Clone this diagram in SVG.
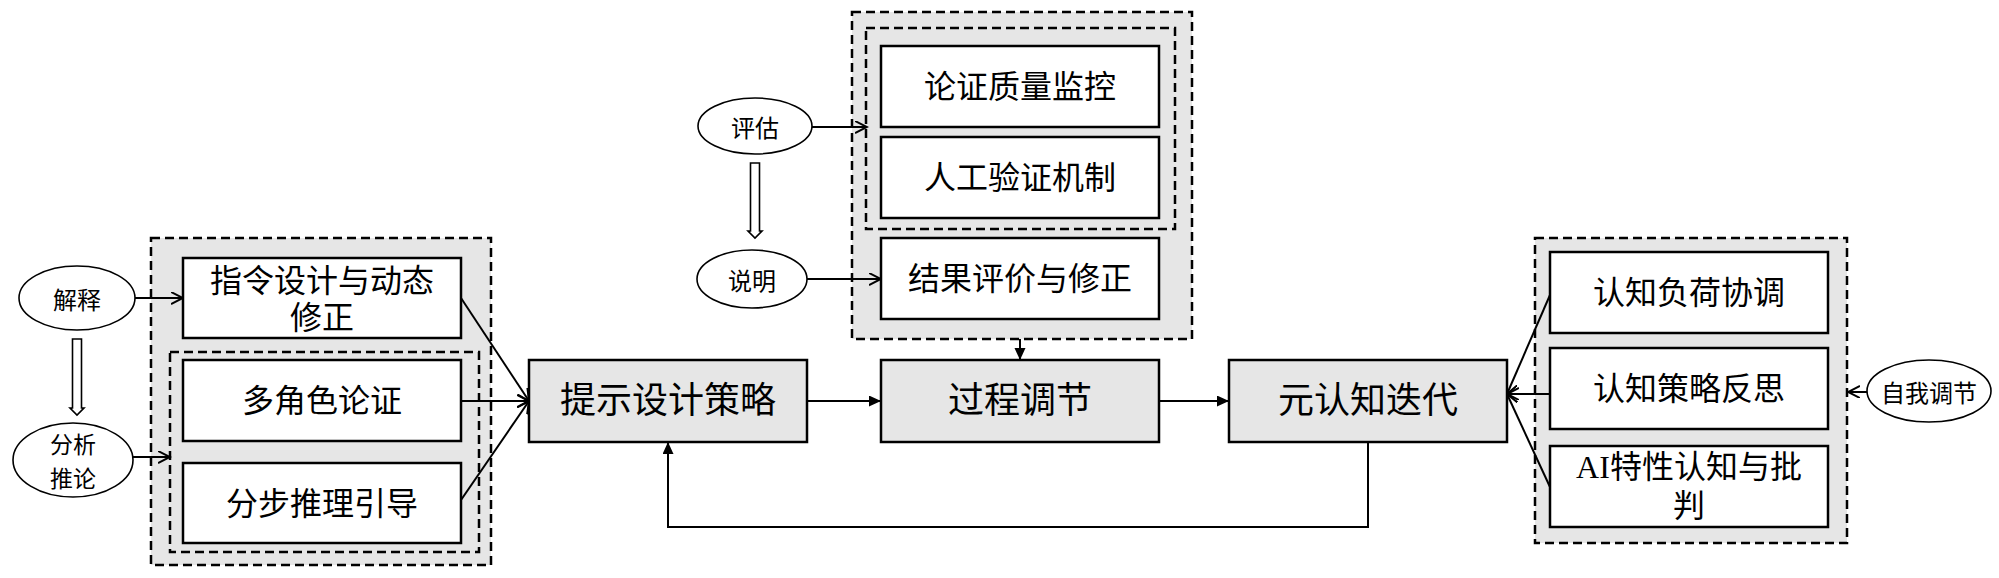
<svg xmlns="http://www.w3.org/2000/svg" width="1999" height="578" viewBox="0 0 1999 578">
<style>
.grp{fill:#e6e6e6;stroke:#000;stroke-width:2.5;stroke-dasharray:9 5}
.box{fill:#fff;stroke:#000;stroke-width:2.5}
.main{fill:#e6e6e6;stroke:#000;stroke-width:2.5}
.ell{fill:#fff;stroke:#000;stroke-width:1.6}
.t{font-family:"Liberation Serif","Noto Sans CJK SC",serif;font-size:32px;fill:#000;text-anchor:middle;dominant-baseline:central}
.tm{font-size:36px}
.te{font-family:"Noto Sans CJK SC","Liberation Sans",sans-serif;font-size:24px;fill:#000;text-anchor:middle;dominant-baseline:central}
.c{fill:none;stroke:#000;stroke-width:2}
.open{marker-end:url(#openA)}
.fill{marker-end:url(#fillA)}
.hollow{fill:#fff;stroke:#000;stroke-width:1.6}
</style>
<defs>
<marker id="openA" markerUnits="userSpaceOnUse" markerWidth="14" markerHeight="14" refX="12" refY="6" orient="auto" viewBox="0 0 14 14">
<path d="M0,0 L12,6 L0,12" fill="none" stroke="#000" stroke-width="2"/>
</marker>
<marker id="fillA" markerUnits="userSpaceOnUse" markerWidth="14" markerHeight="12" refX="12" refY="5.5" orient="auto" viewBox="0 0 14 12">
<path d="M0,0 L12,5.5 L0,11 z" fill="#000"/>
</marker>
</defs>

<g id="left-group">
<rect class="grp" x="151" y="238" width="340" height="327"/>
<rect class="grp" x="170" y="352" width="309" height="200"/>
</g>
<g id="top-group">
<rect class="grp" x="852" y="12" width="340" height="327"/>
<rect class="grp" x="866" y="28" width="309" height="201"/>
</g>
<g id="right-group">
<rect class="grp" x="1535" y="238" width="312" height="305"/>
</g>

<g id="connectors">
<path class="c open" d="M135,298 L183,298"/>
<path class="c open" d="M133,457 L170,457"/>
<polygon class="hollow" points="72.5,339 81.5,339 81.5,408 84,408 77,415 70,408 72.5,408"/>
<path class="c open" d="M461,298 L529,401"/>
<path class="c open" d="M461,401 L529,401"/>
<path class="c open" d="M461,500 L529,401"/>
<path class="c fill" d="M807,401 L881,401"/>
<path class="c fill" d="M1159,401 L1229,401"/>
<path class="c fill" d="M1020,339 L1020,360"/>
<path class="c fill" d="M1368,442 L1368,527 L668,527 L668,442"/>
<path class="c open" d="M812,127 L867,127"/>
<polygon class="hollow" points="750.5,163 759.5,163 759.5,231 762,231 755,238 748,231 750.5,231"/>
<path class="c open" d="M807,279 L881,279"/>
<path class="c open" d="M1550,295 L1507,394"/>
<path class="c open" d="M1550,394 L1507,394"/>
<path class="c open" d="M1550,487 L1507,394"/>
<path class="c open" d="M1867,392 L1848,392"/>
</g>

<g id="n-jieshi"><ellipse class="ell" cx="77" cy="298" rx="58" ry="32"/><text class="te" x="77" y="298">解释</text></g>
<g id="n-fenxi"><ellipse class="ell" cx="73" cy="460" rx="60" ry="37"/><text class="te" x="73" y="443" style="font-size:23px">分析<tspan x="73" y="477">推论</tspan></text></g>
<g id="n-pinggu"><ellipse class="ell" cx="755" cy="126" rx="57" ry="28"/><text class="te" x="755" y="126">评估</text></g>
<g id="n-shuoming"><ellipse class="ell" cx="752" cy="279" rx="55" ry="29"/><text class="te" x="752" y="279">说明</text></g>
<g id="n-ziwo"><ellipse class="ell" cx="1929" cy="391" rx="62" ry="31"/><text class="te" x="1929" y="391">自我调节</text></g>

<g id="n-zhiling"><rect class="box" x="183" y="258" width="278" height="80"/><text class="t" x="322" y="281">指令设计与动态<tspan x="322" y="318">修正</tspan></text></g>
<g id="n-duojuese"><rect class="box" x="183" y="360" width="278" height="81"/><text class="t" x="322" y="401">多角色论证</text></g>
<g id="n-fenbu"><rect class="box" x="183" y="463" width="278" height="80"/><text class="t" x="322" y="504">分步推理引导</text></g>

<g id="n-lunzheng"><rect class="box" x="881" y="46" width="278" height="81"/><text class="t" x="1020" y="87">论证质量监控</text></g>
<g id="n-rengong"><rect class="box" x="881" y="137" width="278" height="81"/><text class="t" x="1020" y="178">人工验证机制</text></g>
<g id="n-jieguo"><rect class="box" x="881" y="238" width="278" height="81"/><text class="t" x="1020" y="279">结果评价与修正</text></g>

<g id="n-tishi"><rect class="main" x="529" y="360" width="278" height="82"/><text class="t tm" x="668" y="401">提示设计策略</text></g>
<g id="n-guocheng"><rect class="main" x="881" y="360" width="278" height="82"/><text class="t tm" x="1020" y="401">过程调节</text></g>
<g id="n-yuanrenzhi"><rect class="main" x="1229" y="360" width="278" height="82"/><text class="t tm" x="1368" y="401">元认知迭代</text></g>

<g id="n-fuhe"><rect class="box" x="1550" y="252" width="278" height="81"/><text class="t" x="1689" y="293">认知负荷协调</text></g>
<g id="n-celue"><rect class="box" x="1550" y="348" width="278" height="81"/><text class="t" x="1689" y="389">认知策略反思</text></g>
<g id="n-ai"><rect class="box" x="1550" y="446" width="278" height="81"/><text class="t" x="1689" y="467">AI特性认知与批<tspan x="1689" y="506">判</tspan></text></g>
</svg>
